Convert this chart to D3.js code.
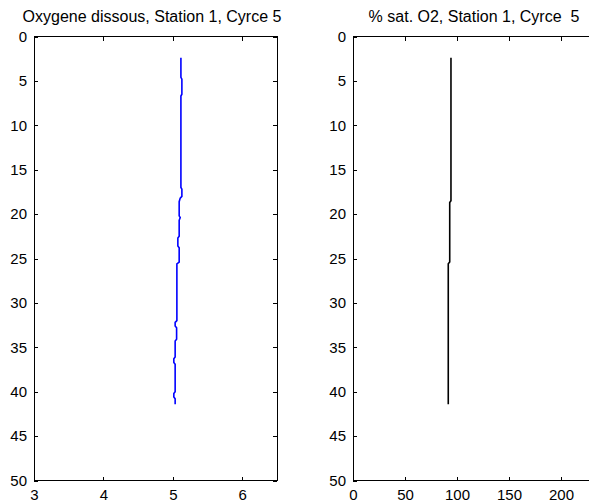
<!DOCTYPE html>
<html>
<head>
<meta charset="utf-8">
<script src="https://cdn.jsdelivr.net/npm/d3@7"></script>
<style>
  html, body { margin: 0; padding: 0; background: #fff; }
  svg { display: block; }
  text { font-family: "Liberation Sans", Arial, sans-serif; fill: #000; }
</style>
</head>
<body>
<svg id="chart" width="589" height="502"></svg>
<script>
// ---- data ----
const titles = ["Oxygene dissous, Station 1, Cyrce 5", "% sat. O2, Station 1, Cyrce  5"];
const depthTicks = [0, 5, 10, 15, 20, 25, 30, 35, 40, 45, 50];
const o2Ticks = [3, 4, 5, 6];
const satTicks = [0, 50, 100, 150, 200];

// dissolved oxygen profile (mg/l) vs depth (m)
const o2Depth = [2.4, 4.6, 4.8, 6.5, 6.7, 17.0, 17.2, 18.0, 18.2, 18.6, 20.2, 20.4, 20.7, 22.5, 22.7, 23.6, 23.8, 25.4, 25.6, 32.0, 32.2, 32.6, 32.8, 34.1, 34.3, 36.1, 36.3, 36.7, 36.9, 40.0, 40.2, 40.6, 40.8, 41.4];
const o2Value = [5.116, 5.116, 5.130, 5.130, 5.116, 5.116, 5.130, 5.130, 5.106, 5.091, 5.091, 5.106, 5.091, 5.091, 5.072, 5.072, 5.091, 5.091, 5.058, 5.058, 5.033, 5.033, 5.054, 5.054, 5.033, 5.033, 5.014, 5.014, 5.033, 5.033, 5.014, 5.014, 5.033, 5.033];

// % oxygen saturation vs depth (m)
const satDepth = [2.4, 18.5, 18.7, 25.4, 25.6, 41.4];
const satValue = [94.2, 94.2, 93.0, 93.0, 91.6, 91.6];

// ---- layout ----
const svg = d3.select("#chart");
const plotTop = 36.5, plotBottom = 480.5;
const fs = 15;
const fmt = d3.format("d");

function panel(left, xDomain, xRangeW, xTicks, depth, vals, color, title, titleX) {
  const x = d3.scaleLinear().domain(xDomain).range([left, left + xRangeW]);
  const y = d3.scaleLinear().domain([0, 50]).range([plotTop, plotBottom]);
  const right = left + xRangeW;
  const g = svg.append("g");

  g.append("rect")
    .attr("x", left).attr("y", plotTop)
    .attr("width", xRangeW).attr("height", plotBottom - plotTop)
    .attr("fill", "none").attr("stroke", "#000").attr("stroke-width", 1)
    .attr("shape-rendering", "crispEdges");

  const ax = g.append("g").attr("transform", `translate(0,${plotBottom})`)
    .call(d3.axisBottom(x).tickValues(xTicks).tickFormat(fmt).tickSizeInner(-4).tickSizeOuter(0).tickPadding(9));
  const axT = g.append("g").attr("transform", `translate(0,${plotTop})`)
    .call(d3.axisTop(x).tickValues(xTicks).tickSizeInner(-4).tickSizeOuter(0).tickFormat(""));
  const ay = g.append("g").attr("transform", `translate(${left},0)`)
    .call(d3.axisLeft(y).tickValues(depthTicks).tickFormat(fmt).tickSizeInner(-4).tickSizeOuter(0).tickPadding(7));
  const ayR = g.append("g").attr("transform", `translate(${right},0)`)
    .call(d3.axisRight(y).tickValues(depthTicks).tickSizeInner(-4).tickSizeOuter(0).tickFormat(""));

  [ax, axT, ay, ayR].forEach(a => {
    a.select(".domain").remove();
    a.attr("font-family", null).attr("font-size", null);
    a.selectAll("line").attr("stroke", "#000").attr("shape-rendering", "crispEdges");
    a.selectAll("text").style("font-size", fs + "px").attr("fill", "#000")
      .style("font-family", '"Liberation Sans", Arial, sans-serif');
  });

  const pts = depth.map((d, i) => [vals[i], d]);
  g.append("path")
    .datum(pts)
    .attr("fill", "none")
    .attr("stroke", color)
    .attr("stroke-width", 1.6)
    .attr("d", d3.line().x(p => x(p[0])).y(p => y(p[1])));

  g.append("text")
    .attr("x", titleX)
    .attr("y", 22)
    .attr("text-anchor", "middle")
    .attr("xml:space", "preserve")
    .style("white-space", "pre")
    .style("font-size", "16px")
    .text(title);
}

panel(34, [3, 6.5], 243, o2Ticks, o2Depth, o2Value, "#0000ff", titles[0], 152);
panel(353, [0, 250], 260, satTicks, satDepth, satValue, "#000000", titles[1], 474);
</script>
</body>
</html>
